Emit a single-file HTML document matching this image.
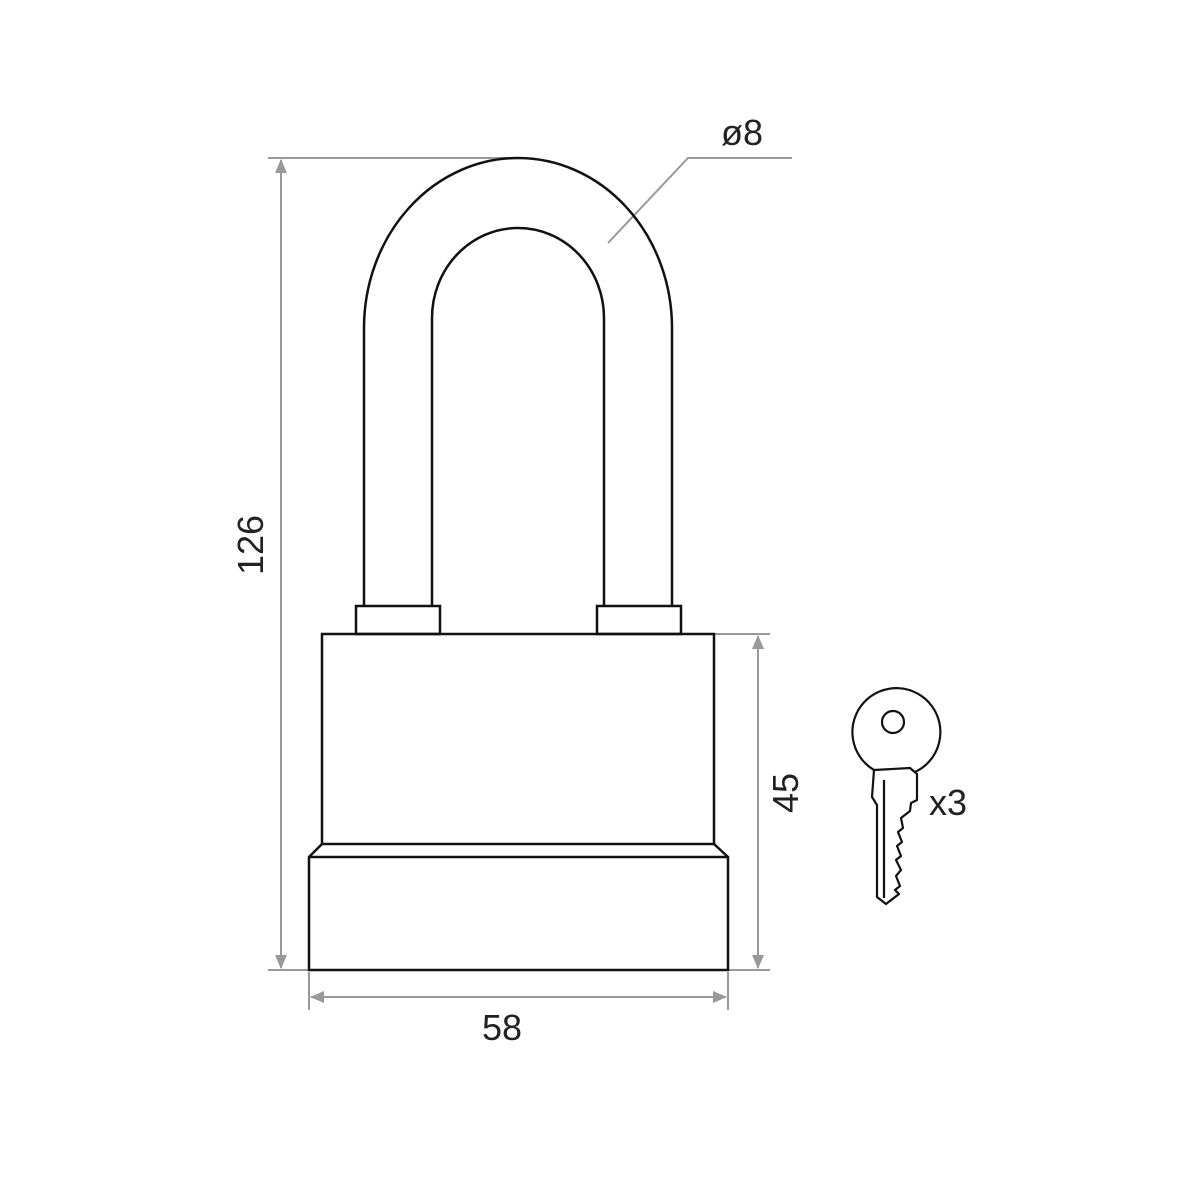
<!DOCTYPE html>
<html><head><style>html,body{margin:0;padding:0;background:#fff}svg{display:block}</style></head>
<body>
<svg width="1200" height="1200" viewBox="0 0 1200 1200" xmlns="http://www.w3.org/2000/svg">
<defs>
<marker id="a" markerWidth="14" markerHeight="12" refX="13" refY="6" orient="auto-start-reverse" markerUnits="userSpaceOnUse" viewBox="0 0 14 12"><path d="M0,0 L14,6 L0,12 z" fill="#999"/></marker>
</defs>
<g stroke="#999" stroke-width="2" fill="none">
<line x1="268" y1="158" x2="520" y2="158"/>
<line x1="268" y1="970" x2="309" y2="970"/>
<line x1="281" y1="160" x2="281" y2="968" marker-start="url(#a)" marker-end="url(#a)"/>
<line x1="714" y1="634" x2="770" y2="634"/>
<line x1="728" y1="970" x2="770" y2="970"/>
<line x1="758" y1="636" x2="758" y2="968" marker-start="url(#a)" marker-end="url(#a)"/>
<line x1="309" y1="972" x2="309" y2="1010"/>
<line x1="728" y1="972" x2="728" y2="1010"/>
<line x1="311" y1="997" x2="726" y2="997" marker-start="url(#a)" marker-end="url(#a)"/>
<polyline points="608,243 688,158 792,158"/>
</g>
<g stroke="#111" stroke-width="2.5" fill="none" stroke-linejoin="miter">
<path d="M364,606 L364,328 A154,170 0 0 1 672,328 L672,606"/>
<path d="M432,606 L432,318 A86,90 0 0 1 604,318 L604,606"/>
<rect x="356" y="606" width="84" height="28" fill="#fff"/>
<rect x="597" y="606" width="84" height="28" fill="#fff"/>
<rect x="322" y="634" width="392" height="210"/>
<path d="M322,844 L309,857 L309,970 L728,970 L728,857 L714,844"/>
<line x1="309" y1="857" x2="728" y2="857"/>
</g>
<g stroke="#111" stroke-width="2.2" fill="none" stroke-linejoin="round">
<path d="M874,770 A44,44 0 1 1 915,772"/>
<circle cx="893" cy="722" r="11"/>
<path d="M874,770 L910,768 L917,774 L917,800 L911,803 L910,811 L901,818 L903,828 L898,832 L902,842 L897,846 L901,856 L896,860 L901,870 L896,876 L900,886 L895,890 L899,894 L886,904 L877,897 L877,805 L872,797 L874,770 Z"/>
<line x1="884" y1="780" x2="884" y2="898"/>
</g>
<g font-family="'Liberation Sans', sans-serif" fill="#222" font-size="36">
<text x="742" y="145" text-anchor="middle">ø8</text>
<text x="502" y="1040" text-anchor="middle">58</text>
<text x="948" y="815" text-anchor="middle">x3</text>
<text transform="translate(263,545) rotate(-90)" text-anchor="middle">126</text>
<text transform="translate(798,793) rotate(-90)" text-anchor="middle">45</text>
</g>
</svg>
</body></html>
